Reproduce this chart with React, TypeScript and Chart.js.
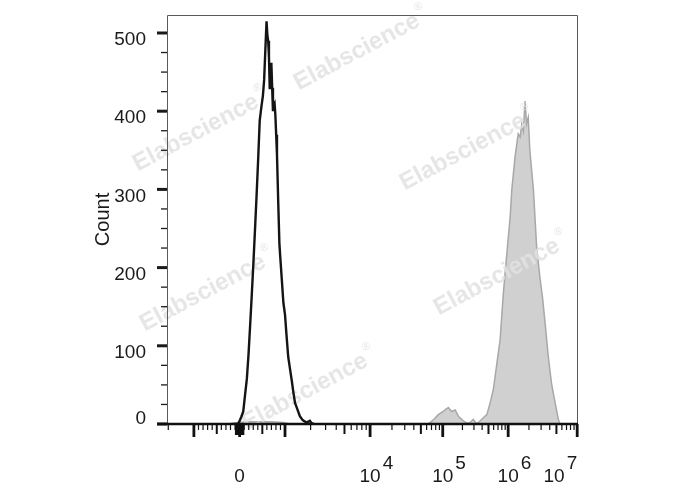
import React, { useEffect, useRef } from 'react';
import { Chart, registerables } from 'chart.js';
Chart.register(...registerables);

// ---- data (x in display channels 0..1024 of the biexponential axis) ----
const blackChannel = [160,176,180,185,190,194,199,203,207,211,215,219,223,227,231,235,239,242,245,248,250,252,254,256,258,260,262,264,266,268,270,272,274,277,280,282,286,290,294,298,302,306,311,315,319,324,331,338,344,348,352,356,360,366];
const blackCount = [0,0,3,9,16,35,58,88,125,163,203,246,290,337,388,405,420,440,478,515,498,490,470,428,452,462,430,400,408,410,395,370,345,286,231,215,185,155,140,112,86,72,55,40,27,20,10,5,3,2,3,4,1,0];

const grayChannel = [160,180,200,230,260,290,306,650,656,665,676,688,695,701,709,718,726,738,748,755,763,770,776,788,797,805,813,821,830,838,846,855,859,867,875,880,884,888,892,896,900,904,913,921,929,936,942,950,958,967,975,979,990];
const grayCount = [0,2,3,3,3,2,0,0,2,6,12,16,19,21,16,18,10,4,1,2,6,1,2,8,12,27,44,74,108,167,214,265,299,341,371,367,384,375,413,384,392,350,299,226,188,160,129,86,52,27,6,0,0];

const yTickValues = [0, 100, 200, 300, 400, 500];
const yMinorStep = 25;
const yMax = 523;
const xMin = 0;
const xMax = 1024;

// biexponential axis anchors
const xZeroChannel = 181;
const xNegThousandChannel = 67;
const xDecadeValues = [1e3, 1e4, 1e5, 1e6, 1e7];
const xDecadeChannels = [294, 506, 687, 850, 1022];
const xLabelValues = [0, 1e4, 1e5, 1e6, 1e7];
const xLabelBases = ['0', '10', '10', '10', '10'];
const xLabelExps = ['', '4', '5', '6', '7'];

const WATERMARKS = [
  [357, 52], [196, 133], [463, 152], [203, 293], [497, 277], [305, 392],
];

const FONT = '"Liberation Sans", Arial, Helvetica, sans-serif';

function channelOf(v: number): number {
  if (v === 0) return xZeroChannel;
  const a = Math.abs(v);
  const c1k = xDecadeChannels[0];
  if (a <= 1000) {
    return v > 0
      ? xZeroChannel + (c1k - xZeroChannel) * a / 1000
      : xZeroChannel - (xZeroChannel - xNegThousandChannel) * a / 1000;
  }
  const l = Math.log10(a);
  const i = Math.min(Math.floor(l) - 3, xDecadeChannels.length - 2);
  const c0 = xDecadeChannels[i];
  const c1 = xDecadeChannels[i + 1];
  const p = c0 + (c1 - c0) * (l - Math.log10(xDecadeValues[i]));
  return v > 0 ? p : xNegThousandChannel - (p - c1k);
}

type Tick = { v: number; kind: 'major' | 'mid' | 'minor' | 'fine' };

function buildXTicks(): Tick[] {
  const t: Tick[] = [];
  t.push({ v: 0, kind: 'major' });
  t.push({ v: -1000, kind: 'major' });
  for (const d of xDecadeValues) t.push({ v: d, kind: 'major' });
  for (let m = 1; m <= 9; m++) {
    t.push({ v: m * 10, kind: 'fine' });
    t.push({ v: -m * 10, kind: 'fine' });
    t.push({ v: m * 100, kind: m === 5 ? 'mid' : 'minor' });
    t.push({ v: -m * 100, kind: m === 5 ? 'mid' : 'minor' });
  }
  for (let k = 0; k < xDecadeValues.length - 1; k++) {
    for (let m = 2; m <= 9; m++) {
      t.push({ v: m * xDecadeValues[k], kind: m === 5 ? 'mid' : 'minor' });
    }
  }
  for (let m = 2; m <= 9; m++) t.push({ v: -m * 1000, kind: m === 5 ? 'mid' : 'minor' });
  return t.filter((k) => channelOf(k.v) >= xMin - 0.5 && channelOf(k.v) <= xMax);
}

const decorPlugin = {
  id: 'decor',
  afterDatasetDraw(chart: any, args: any) {
    if (args.index !== 1) return;
    const ctx = chart.ctx;
    for (const [cx, cy] of WATERMARKS) {
      ctx.save();
      ctx.translate(cx, cy);
      ctx.rotate((-28 * Math.PI) / 180);
      ctx.font = `bold 24px ${FONT}`;
      ctx.fillStyle = 'rgba(226,226,226,0.85)';
      ctx.textAlign = 'center';
      ctx.textBaseline = 'middle';
      ctx.fillText('Elabscience', 0, 0);
      const w = ctx.measureText('Elabscience').width;
      ctx.font = `11px ${FONT}`;
      ctx.textAlign = 'left';
      ctx.fillText('®', w / 2 + 2, -11);
      ctx.restore();
    }
  },
  afterDraw(chart: any) {
    const ctx = chart.ctx;
    const { left, right, top, bottom } = chart.chartArea;
    const xs = chart.scales.x;
    const ys = chart.scales.y;
    ctx.save();
    // frame
    ctx.strokeStyle = '#5a5a5a';
    ctx.lineWidth = 1;
    ctx.beginPath();
    ctx.moveTo(left + 0.5, bottom);
    ctx.lineTo(left + 0.5, top + 0.5);
    ctx.lineTo(right - 0.5, top + 0.5);
    ctx.lineTo(right - 0.5, bottom);
    ctx.stroke();
    // y ticks
    ctx.strokeStyle = '#1a1a1a';
    for (let v = 0; v <= yMax; v += yMinorStep) {
      const y = ys.getPixelForValue(v);
      const major = v % 100 === 0;
      ctx.lineWidth = major ? 3 : 1.3;
      ctx.beginPath();
      ctx.moveTo(left - (major ? 10 : 6), y);
      ctx.lineTo(left, y);
      ctx.stroke();
    }
    // x axis line
    ctx.lineWidth = 2.5;
    ctx.strokeStyle = '#111';
    ctx.beginPath();
    ctx.moveTo(left - 10, bottom);
    ctx.lineTo(right, bottom);
    ctx.stroke();
    // x ticks
    for (const t of buildXTicks()) {
      const x = xs.getPixelForValue(channelOf(t.v));
      const len = t.kind === 'major' ? 12 : t.kind === 'mid' ? 9 : t.kind === 'fine' ? 10 : 5;
      ctx.lineWidth = t.kind === 'major' ? 2.8 : t.kind === 'mid' ? 2 : 1.2;
      ctx.beginPath();
      ctx.moveTo(x, bottom);
      ctx.lineTo(x, bottom + 1 + len);
      ctx.stroke();
    }
    // y labels
    ctx.fillStyle = '#1a1a1a';
    ctx.font = `19px ${FONT}`;
    ctx.textAlign = 'right';
    ctx.textBaseline = 'middle';
    for (const v of yTickValues) {
      const y = ys.getPixelForValue(v) + (v === 0 ? -5 : 7);
      ctx.fillText(String(v), 146, y);
    }
    // y title
    ctx.save();
    ctx.translate(103, (top + bottom) / 2);
    ctx.rotate(-Math.PI / 2);
    ctx.textAlign = 'center';
    ctx.textBaseline = 'middle';
    ctx.font = `20px ${FONT}`;
    ctx.fillText('Count', 0, 0);
    ctx.restore();
    // x labels
    ctx.textBaseline = 'alphabetic';
    ctx.font = `19px ${FONT}`;
    xLabelValues.forEach((v, i) => {
      const x = xs.getPixelForValue(channelOf(v));
      const base = xLabelBases[i];
      const exp = xLabelExps[i];
      const bw = ctx.measureText(base).width;
      const ew = exp ? ctx.measureText(exp).width : 0;
      let bx = x - bw / 2;
      if (exp && bx + bw + 2 + ew > right) bx = x - bw - 2 - ew;
      ctx.textAlign = 'left';
      ctx.fillText(base, bx, 482);
      if (exp) ctx.fillText(exp, bx + bw + 2, 469);
    });
    ctx.restore();
  },
};

export default function App() {
  const ref = useRef<HTMLCanvasElement | null>(null);
  useEffect(() => {
    if (!ref.current) return;
    const chart = new Chart(ref.current, {
      type: 'line',
      data: {
        datasets: [
          {
            label: 'Sample',
            data: blackChannel.map((c, i) => ({ x: c, y: blackCount[i] })),
            borderColor: '#141414',
            borderWidth: 2.4,
            fill: false,
            pointRadius: 0,
            tension: 0,
          },
          {
            label: 'Control',
            data: grayChannel.map((c, i) => ({ x: c, y: grayCount[i] })),
            borderColor: '#a8a8a8',
            borderWidth: 1.5,
            backgroundColor: '#d0d0d0',
            fill: 'origin',
            pointRadius: 0,
            tension: 0,
          },
        ],
      },
      options: {
        responsive: false,
        animation: false,
        layout: { padding: { left: 167, right: 110, top: 15, bottom: 66 } },
        scales: {
          x: { type: 'linear', min: xMin, max: xMax, display: false },
          y: { type: 'linear', min: 0, max: yMax, display: false },
        },
        plugins: { legend: { display: false }, tooltip: { enabled: false } },
      },
      plugins: [decorPlugin],
    });
    return () => chart.destroy();
  }, []);
  return (
    <div style={{ position: 'absolute', left: 0, top: 0, width: 688, height: 490, background: '#fff' }}>
      <canvas ref={ref} width={688} height={490} style={{ display: 'block' }} />
    </div>
  );
}
